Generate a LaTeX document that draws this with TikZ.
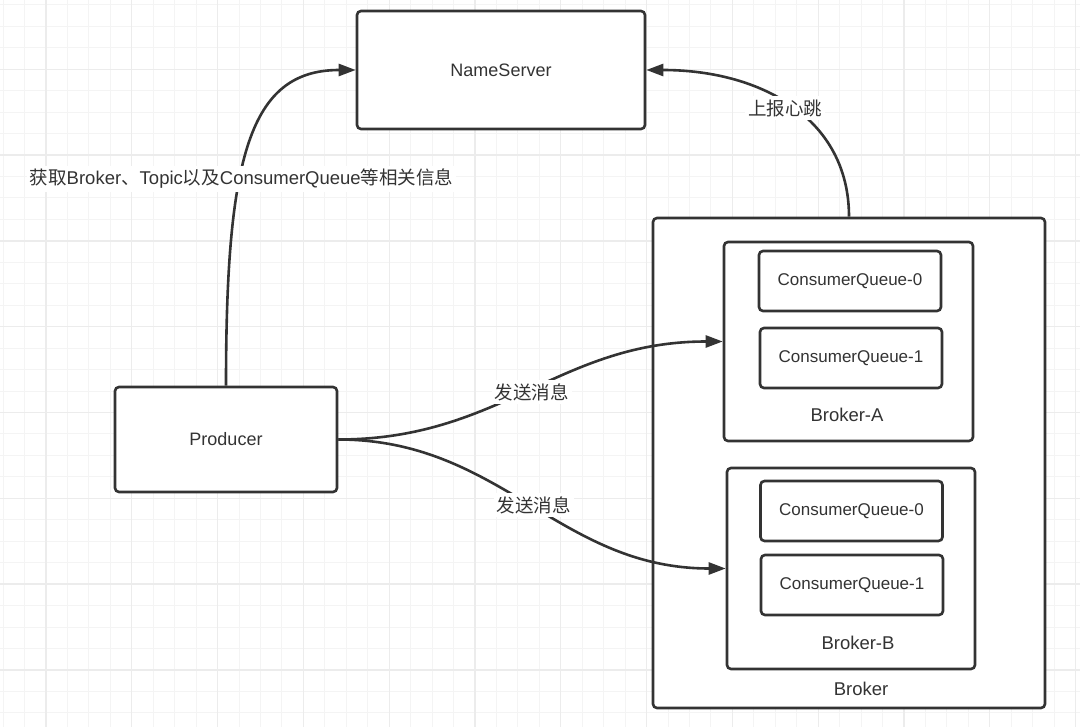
\documentclass[tikz,border=0pt]{standalone}
\usepackage{fontspec}
\setmainfont{Liberation Sans}
\newfontfamily\cjk{Noto Sans CJK SC}
\usetikzlibrary{arrows.meta}
\definecolor{ink}{HTML}{333333}
\definecolor{gridminor}{HTML}{F4F4F4}
\definecolor{gridmajor}{HTML}{ECECEC}
\begin{document}
\begin{tikzpicture}[x=1pt,y=-1pt,
  box/.style={draw=ink, line width=2.6pt, rounded corners=4pt, fill=white, inner sep=0pt, text=ink, font=\fontsize{18}{20}\selectfont},
  qbox/.style={box, minimum width=182pt, minimum height=60pt, font=\fontsize{17}{19}\selectfont},
  lbl/.style={text=ink, inner sep=0pt, font=\fontsize{18.5}{20}\selectfont},
  conn/.style={draw=ink, line width=2.6pt, -{Triangle[length=17pt,width=12pt]}},
  tag/.style={fill=white, text=ink, inner sep=3pt, font=\fontsize{18.5}{20}\selectfont}]
\useasboundingbox (0,0) rectangle (1080,727);
\fill[white] (0,0) rectangle (1080,727);
% grid
\foreach \i in {0,...,50} \draw[gridminor, line width=1pt] ({3.1+\i*21.45},0) -- ({3.1+\i*21.45},727);
\foreach \i in {0,...,33} \draw[gridminor, line width=1pt] (0,{4.95+\i*21.45}) -- (1080,{4.95+\i*21.45});
\foreach \i in {0,...,12} \draw[gridmajor, line width=1.3pt] ({46+\i*85.8},0) -- ({46+\i*85.8},727);
\foreach \i in {0,...,7} \draw[gridmajor, line width=1.3pt] (0,{69.3+\i*85.8}) -- (1080,{69.3+\i*85.8});
% boxes
\node[box, minimum width=288pt, minimum height=118pt] (ns) at (501,70) {NameServer};
\node[box, minimum width=222pt, minimum height=105pt] (prod) at (226,439.5) {Producer};
\node[box, minimum width=392pt, minimum height=490pt] (broker) at (849,463) {};
\node[box, minimum width=249pt, minimum height=199pt] (brokerA) at (848.5,341.5) {};
\node[qbox] (cqA0) at (850,281) {ConsumerQueue-0};
\node[qbox] (cqA1) at (851,358) {ConsumerQueue-1};
\node[lbl] (brokerAt) at (847,415) {Broker-A};
\node[box, minimum width=248pt, minimum height=201pt] (brokerB) at (851,568.5) {};
\node[qbox] (cqB0) at (851.5,511) {ConsumerQueue-0};
\node[qbox] (cqB1) at (852,585) {ConsumerQueue-1};
\node[lbl] (brokerBt) at (858,643) {Broker-B};
\node[lbl] (brokert) at (861,689) {Broker};
% connectors
\draw[conn] (prod.north) .. controls +(0,-227) and +(-107,0) .. (ns.west);
\draw[conn] (broker.north) .. controls +(0,-98) and +(115,0) .. (ns.east);
\draw[conn] (prod.east) .. controls +(163,0) and +(-164,0) .. (brokerA.west);
\draw[conn] (prod.east) .. controls +(163,0) and +(-167,0) .. (brokerB.west);
% labels
\node[tag] (getinfo) at (241.5,179) {{\cjk 获取}Broker{\cjk 、}Topic{\cjk 以及}ConsumerQueue{\cjk 等相关信息}};
\node[tag] (beat) at (785,108) {\cjk 上报心跳};
\node[tag] (sendA) at (531.7,392) {\cjk 发送消息};
\node[tag] (sendB) at (533.5,505) {\cjk 发送消息};
\end{tikzpicture}
\end{document}
